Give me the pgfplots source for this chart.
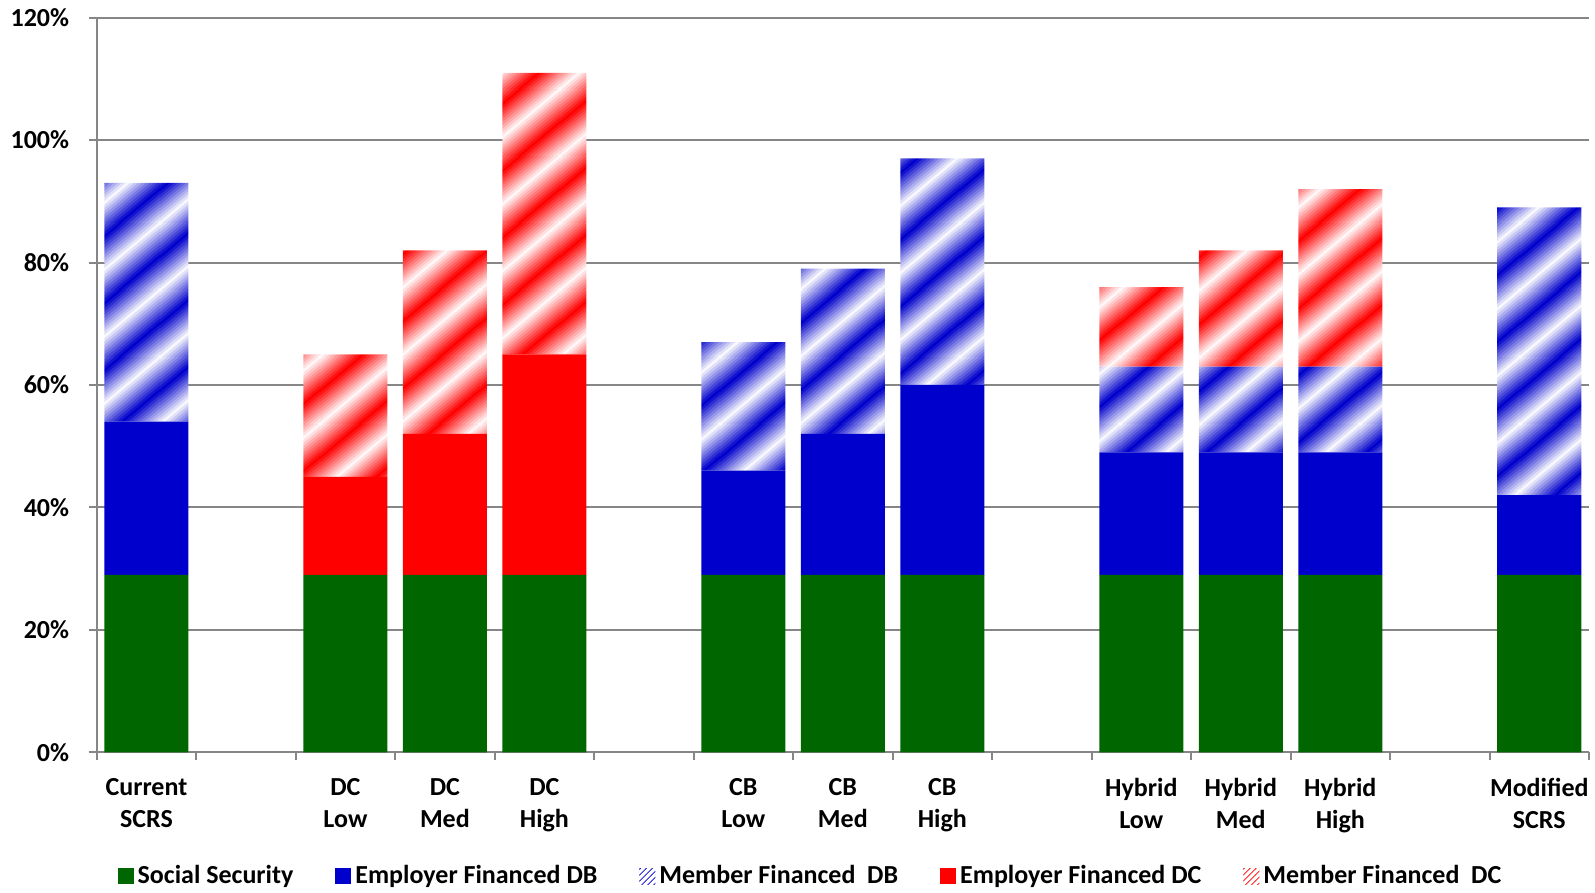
\documentclass[border=0pt]{standalone}
\usepackage{pgfplots}
\pgfplotsset{compat=1.18}
\usepackage{pgfplotstable}
\usepackage{fontspec}
\setmainfont{Carlito}
\usetikzlibrary{patterns}
\definecolor{ssgreen}{RGB}{0,102,0}
\definecolor{dbblue}{RGB}{0,0,204}
\definecolor{dcred}{RGB}{255,0,0}
\definecolor{axgray}{RGB}{134,134,134}

\newcommand\defstripes[2]{%
\pgfdeclarepatterninherentlycolored{#1}{\pgfpointorigin}{\pgfqpoint{40bp}{33.5bp}}{\pgfqpoint{40bp}{33.5bp}}{%
 \pgfsetfillcolor{#2}%
 \pgfpathrectangle{\pgfpoint{-1bp}{-1bp}}{\pgfpoint{42bp}{35.5bp}}%
 \pgfusepath{fill}%
 \foreach \f/\m in {95/92,85/82,75/72,65/62,55/52,45/42,35/32,25/22,15/12,5/3}{%
   \pgfmathsetmacro\w{\f*0.257}%
   \pgfsetlinewidth{\w bp}%
   \pgfsetstrokecolor{#2!\m!white}%
   \foreach \c in {-40,0,40}{%
     \pgfpathmoveto{\pgfpoint{\c bp-40bp}{-33.5bp}}%
     \pgfpathlineto{\pgfpoint{\c bp+80bp}{67bp}}%
     \pgfusepath{stroke}%
   }%
 }%
}}
\defstripes{bluestripes}{dbblue}
\defstripes{redstripes}{dcred}

\pgfplotstableread{
x  ss  edb  mdb  edc  mdc
0  29  25   39   0    0
2  29  0    0    16   20
3  29  0    0    23   30
4  29  0    0    36   46
6  29  17   21   0    0
7  29  23   27   0    0
8  29  31   37   0    0
10 29  20   14   0    13
11 29  20   14   0    19
12 29  20   14   0    29
14 29  13   47   0    0
}\data

\begin{document}
\begin{tikzpicture}
\begin{axis}[
 at={(0,0)}, anchor=south west,
 scale only axis, width=746.15bp, height=367.3bp,
 xmin=-0.5, xmax=14.5, ymin=0, ymax=120,
 ybar stacked, bar width=0.845,
 axis x line*=bottom, axis y line*=left,
 axis line style={draw=axgray, line width=1bp, -},
 ymajorgrids, grid style={draw=axgray, line width=1bp},
 ytick={0,20,...,120}, yticklabels={0\%,20\%,40\%,60\%,80\%,100\%,120\%},
 xtick={0,2,3,4,6,7,8,10,11,12,14},
 xticklabels={{Current\\SCRS},{DC\\Low},{DC\\Med},{DC\\High},{CB\\Low},{CB\\Med},{CB\\High},{Hybrid\\Low},{Hybrid\\Med},{Hybrid\\High},{Modified\\SCRS}},
 minor xtick={-0.5,0.5,...,14.5},
 tick align=outside, major tick length=4bp, minor tick length=4bp,
 every major x tick/.append style={draw=none},
 every minor x tick/.append style={draw=axgray, line width=1bp},
 every major y tick/.append style={draw=axgray, line width=1bp},
 every tick label/.append style={font=\fontsize{13bp}{16bp}\selectfont\bfseries},
 xticklabel style={align=center, inner sep=0pt, yshift=-8.9bp},
 yticklabel style={inner sep=0pt, xshift=-9.6bp},
 legend image code/.code={\fill[#1] (0bp,-4bp) rectangle (8bp,4bp);},
 legend style={draw=none, fill=none, at={(0.479,-0.1684)}, anchor=center,
   font=\fontsize{13bp}{16bp}\selectfont\bfseries,
   /tikz/every odd column/.append style={column sep=0bp},
   /tikz/every even column/.append style={column sep=19bp}},
 legend columns=5,
]
\addplot[fill=ssgreen, draw=none] table[x=x,y=ss]{\data};
\addlegendentry{Social Security}
\addplot[fill=dbblue, draw=none] table[x=x,y=edb]{\data};
\addlegendentry{Employer Financed DB}
\addplot[pattern=bluestripes, draw=none,
  legend image code/.code={\fill[pattern=north east lines, pattern color=dbblue] (0bp,-4bp) rectangle (8bp,4bp);}] table[x=x,y=mdb]{\data};
\addlegendentry{Member Financed\ \ DB}
\addplot[fill=dcred, draw=none] table[x=x,y=edc]{\data};
\addlegendentry{Employer Financed DC}
\addplot[pattern=redstripes, draw=none,
  legend image code/.code={\fill[pattern=north east lines, pattern color=dcred] (0bp,-4bp) rectangle (8bp,4bp);}] table[x=x,y=mdc]{\data};
\addlegendentry{Member Financed\ \ DC}
\end{axis}
\pgfresetboundingbox
\useasboundingbox (-48.35bp,-70.35bp) rectangle (749.15bp,376.15bp);
\end{tikzpicture}
\end{document}
